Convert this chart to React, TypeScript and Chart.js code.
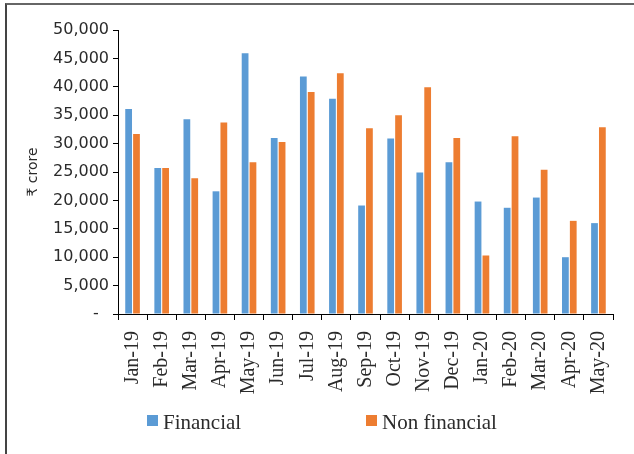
import React, { useEffect, useRef } from "react";
import { Chart, registerables } from "chart.js";

Chart.register(...registerables);

const categories = [
  "Jan-19", "Feb-19", "Mar-19", "Apr-19", "May-19", "Jun-19", "Jul-19", "Aug-19", "Sep-19",
  "Oct-19", "Nov-19", "Dec-19", "Jan-20", "Feb-20", "Mar-20", "Apr-20", "May-20",
];
const financial = [
  36100, 25700, 34300, 21600, 45900, 31000, 41800, 37900, 19100,
  30900, 24900, 26700, 19800, 18700, 20500, 10000, 16000,
];
const nonFinancial = [
  31700, 25700, 23900, 33700, 26700, 30300, 39100, 42400, 32700,
  35000, 39900, 31000, 10300, 31300, 25400, 16400, 32900,
];
const seriesNames = ["Financial", "Non financial"];
const seriesColors = ["#5B9BD5", "#ED7D31"];
const yTitle = "₹ crore";

export default function App() {
  const ref = useRef<HTMLCanvasElement | null>(null);

  useEffect(() => {
    if (!ref.current) return;
    const chart = new Chart(ref.current, {
      type: "bar",
      data: {
        labels: categories,
        datasets: [
          {
            label: seriesNames[0],
            data: financial,
            backgroundColor: seriesColors[0],
            categoryPercentage: 0.54,
            barPercentage: 0.86,
          },
          {
            label: seriesNames[1],
            data: nonFinancial,
            backgroundColor: seriesColors[1],
            categoryPercentage: 0.54,
            barPercentage: 0.86,
          },
        ],
      },
      options: {
        responsive: false,
        animation: false,
        layout: { padding: { left: 0, right: 19, top: 30, bottom: 0 } },
        plugins: {
          legend: { display: false },
          tooltip: { enabled: false },
        },
        scales: {
          x: {
            grid: {
              display: true,
              drawOnChartArea: false,
              drawTicks: true,
              tickLength: 6,
              color: "#000",
              offset: true,
            },
            border: { display: true, color: "#000", width: 1 },
            ticks: {
              minRotation: 90,
              maxRotation: 90,
              autoSkip: false,
              padding: 11,
              color: "#2b2b2b",
              font: { family: "'Liberation Serif', serif", size: 20 },
            },
            afterFit: (scale: any) => {
              scale.height = 140;
            },
          },
          y: {
            min: 0,
            max: 50000,
            grid: {
              display: true,
              drawOnChartArea: false,
              drawTicks: true,
              tickLength: 5,
              color: "#000",
            },
            border: { display: true, color: "#000", width: 1 },
            ticks: {
              stepSize: 5000,
              padding: 4,
              color: "#2b2b2b",
              font: { family: "'DejaVu Sans', sans-serif", size: 16 },
              callback: (v: any) =>
                Number(v) === 0 ? "-  " : Number(v).toLocaleString("en-US"),
            },
            title: {
              display: true,
              text: yTitle,
              color: "#2b2b2b",
              padding: { top: 25, bottom: 0 },
              font: { family: "'DejaVu Sans', sans-serif", size: 14 },
            },
            afterFit: (scale: any) => {
              scale.width = 118;
            },
          },
        },
      },
    });
    return () => chart.destroy();
  }, []);

  const legendText: React.CSSProperties = {
    position: "absolute",
    top: 412,
    fontFamily: "'Liberation Serif', serif",
    fontSize: 21,
    lineHeight: "21px",
    color: "#2b2b2b",
    whiteSpace: "nowrap",
  };
  const box = (left: number, color: string): React.CSSProperties => ({
    position: "absolute",
    left,
    top: 415,
    width: 11,
    height: 11,
    background: color,
  });

  return (
    <div style={{ position: "absolute", left: 0, top: 0, width: 634, height: 454, overflow: "hidden", background: "#fff" }}>
      <div
        style={{
          position: "absolute",
          left: 5,
          top: 3,
          width: 660,
          height: 480,
          borderTop: "2px solid #666",
          borderLeft: "2px solid #444",
        }}
      />
      <canvas ref={ref} width={634} height={454} style={{ position: "absolute", left: 0, top: 0 }} />
      <div style={box(147, seriesColors[0])} />
      <div style={{ ...legendText, left: 163 }}>{seriesNames[0]}</div>
      <div style={box(366, seriesColors[1])} />
      <div style={{ ...legendText, left: 382 }}>{seriesNames[1]}</div>
    </div>
  );
}
